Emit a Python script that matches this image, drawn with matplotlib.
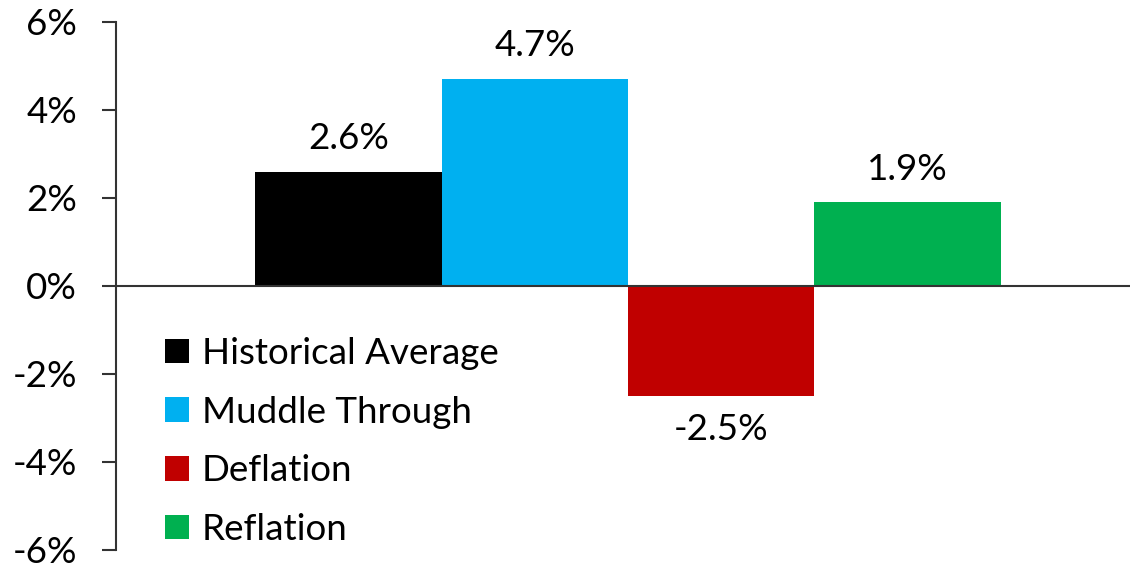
import matplotlib.pyplot as plt
from matplotlib.patches import Patch
from matplotlib.ticker import FuncFormatter

plt.rcParams['font.family'] = ['Lato', 'DejaVu Sans']

scenarios = ['Historical Average', 'Muddle Through', 'Deflation', 'Reflation']
returns = [2.6, 4.7, -2.5, 1.9]
colors = ['#000000', '#00B0F0', '#C00000', '#00B050']
yticks = [-6, -4, -2, 0, 2, 4, 6]

FS = 26.5

fig = plt.figure(figsize=(11.3, 5.66), dpi=100)
ax = fig.add_axes([0.1027, 0.0283, 0.8973, 0.9329])

pos = list(range(len(returns)))
bars = ax.bar(pos, returns, width=1.0, color=colors)

for b, v in zip(bars, returns):
    x = b.get_x() + b.get_width() / 2
    if v >= 0:
        ax.annotate(f'{v:.1f}%', (x, v), xytext=(0, 12), textcoords='offset points',
                    ha='center', va='bottom', fontsize=FS)
    else:
        ax.annotate(f'{v:.1f}%', (x, v), xytext=(0, -12), textcoords='offset points',
                    ha='center', va='top', fontsize=FS)

ax.set_xlim(-1.246, 4.193)
ax.set_ylim(-6, 6)
ax.set_yticks(yticks)
ax.yaxis.set_major_formatter(FuncFormatter(lambda v, p: f'{v:.0f}%'))
ax.tick_params(axis='y', labelsize=FS, length=10, width=1.5, color='#333333', pad=18)
ax.set_xticks([])

for s in ['top', 'right', 'bottom']:
    ax.spines[s].set_visible(False)
ax.spines['left'].set_color('#333333')
ax.spines['left'].set_linewidth(1.5)
ax.axhline(0, color='#333333', lw=1.5, zorder=3)

handles = [Patch(facecolor=c, label=l) for c, l in zip(colors, scenarios)]
ax.legend(handles=handles, loc='upper left', bbox_to_anchor=(0.146, 0.405),
          bbox_transform=fig.transFigure, frameon=False, fontsize=FS,
          handlelength=0.65, handleheight=0.65, handletextpad=0.35,
          labelspacing=0.7, borderpad=0, borderaxespad=0)

fig.savefig('out.png', dpi=100)
